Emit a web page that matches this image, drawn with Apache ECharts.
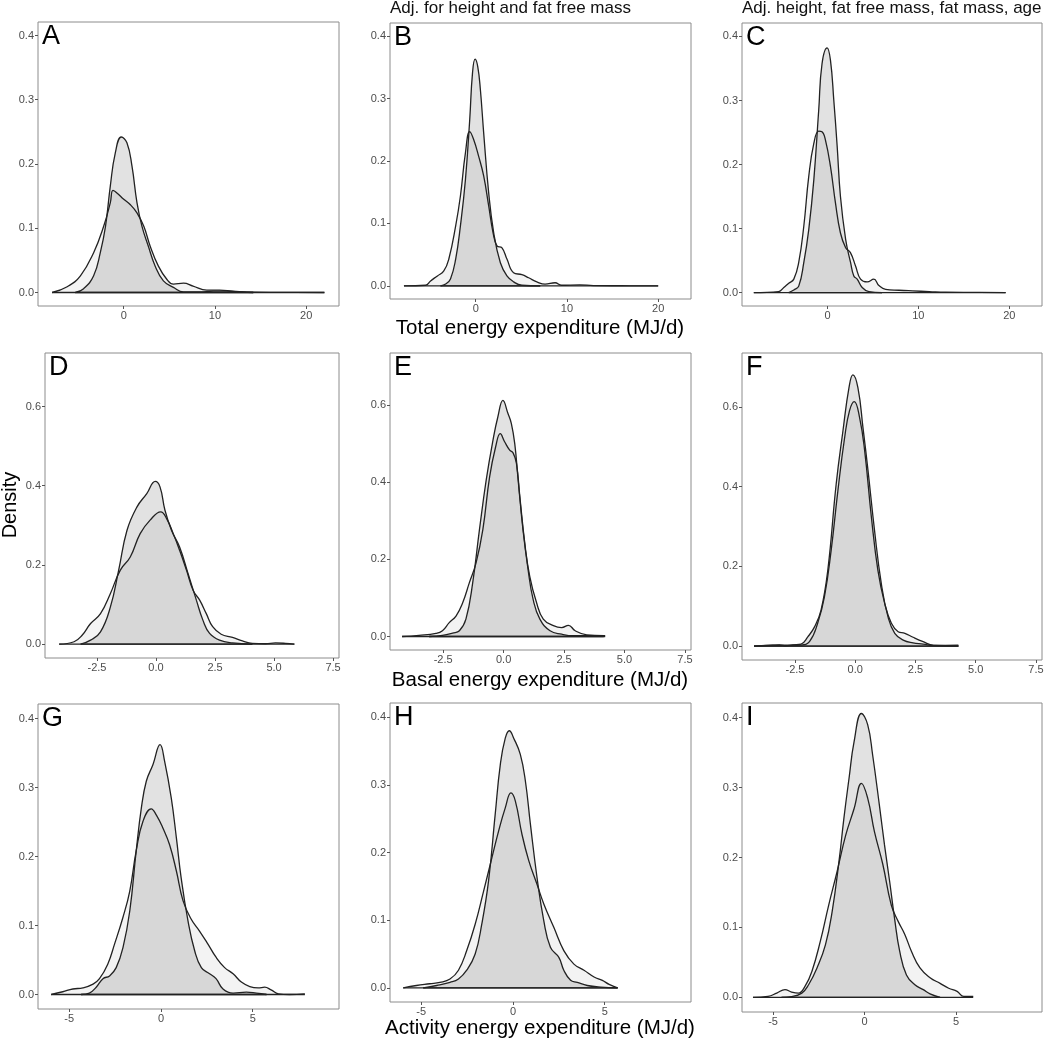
<!DOCTYPE html>
<html>
<head>
<meta charset="utf-8">
<script src="https://cdn.jsdelivr.net/npm/echarts@6/dist/echarts.min.js"></script>
<style>
html,body{margin:0;padding:0;background:#fff;}
#chart{width:1050px;height:1042px;}
</style>
</head>
<body>
<div id="chart"></div>
<script>
// ---------- Data (density curves) ----------
const panelLetters = ['A','B','C','D','E','F','G','H','I'];
const columnTitles = ['', 'Adj. for height and fat free mass', 'Adj. height, fat free mass, fat mass, age'];
const rowTitles = ['Total energy expenditure (MJ/d)', 'Basal energy expenditure (MJ/d)', 'Activity energy expenditure (MJ/d)'];
const yTitle = 'Density';

const xTicksTEE = [0, 10, 20];
const xTicksBEE = [-2.5, 0, 2.5, 5, 7.5];
const xTicksAEE = [-5, 0, 5];
const yTicksTEE = [0, 0.1, 0.2, 0.3, 0.4];
const yTicksBEE = [0, 0.2, 0.4, 0.6];
const yTicksAEE = [0, 0.1, 0.2, 0.3, 0.4];

// Panel A
const A_wide = [[-7.85,0],[-6.2,0.009],[-4.75,0.026],[-3.3,0.062],[-2.2,0.103],[-1.47,0.14],[-1.18,0.159],[-0.75,0.155],[0,0.145],[0.7,0.137],[1.45,0.124],[2.2,0.103],[2.9,0.072],[3.8,0.041],[4.7,0.021],[5.45,0.013],[6.55,0.0145],[7.6,0.010],[9.1,0.0036],[10.5,0.0036],[12,0.002],[14.2,0.0005],[18,0.0002],[22,0]];
const A_tall = [[-5.3,0],[-4.4,0.006],[-3.3,0.026],[-2.57,0.062],[-2.0,0.103],[-1.47,0.166],[-0.93,0.217],[-0.27,0.242],[0.35,0.233],[0.9,0.197],[1.45,0.14],[2.0,0.103],[2.7,0.072],[3.45,0.041],[4.35,0.018],[5.45,0.008],[6.55,0.001],[8.35,0.001],[9.8,0.002],[11.3,0.002],[12.7,0.001],[14.2,0]];
// Panel B
const B_wide = [[-7.87,0],[-5.5,0.001],[-4.95,0.008],[-4.2,0.016],[-3.5,0.024],[-2.95,0.043],[-2.2,0.096],[-1.68,0.144],[-1.13,0.213],[-0.66,0.247],[-0.22,0.234],[0.33,0.207],[0.87,0.176],[1.42,0.128],[1.9,0.085],[2.33,0.064],[2.88,0.061],[3.42,0.043],[4.15,0.021],[5.06,0.018],[5.8,0.013],[6.7,0.0064],[7.6,0.0027],[8.7,0.005],[9.4,0.001],[11.4,0.0016],[12.9,0.0005],[16,0.0002],[20,0]];
const B_tall = [[-3.86,0],[-3.3,0.003],[-2.77,0.011],[-2.2,0.043],[-1.68,0.096],[-1.13,0.17],[-0.66,0.266],[-0.36,0.34],[-0.07,0.363],[0.22,0.351],[0.51,0.314],[0.87,0.245],[1.42,0.149],[1.97,0.085],[2.7,0.037],[3.42,0.016],[4.15,0.0064],[5.06,0.001],[7.07,0]];
// Panel C
const C_wide = [[-8.1,0],[-5.37,0.0015],[-4.8,0.008],[-4.26,0.0145],[-3.7,0.021],[-3.16,0.047],[-2.6,0.104],[-2.06,0.181],[-1.5,0.233],[-0.96,0.252],[-0.6,0.251],[-0.22,0.238],[0.33,0.197],[0.88,0.14],[1.43,0.093],[2.0,0.07],[2.54,0.062],[3.1,0.041],[3.64,0.021],[4.37,0.0166],[5.1,0.021],[5.66,0.011],[6.4,0.005],[7.87,0.0036],[9.34,0.0026],[11.2,0.0015],[13,0.0005],[16,0.0002],[19.6,0]];
const C_tall = [[-4.26,0],[-3.7,0.004],[-3.16,0.01],[-2.6,0.047],[-2.06,0.098],[-1.5,0.176],[-0.96,0.285],[-0.6,0.357],[-0.04,0.382],[0.33,0.363],[0.7,0.3],[1.07,0.228],[1.43,0.15],[2.0,0.083],[2.54,0.047],[2.9,0.026],[3.27,0.021],[3.82,0.008],[4.56,0.0015],[6,0]];
// Panel D
const D_wide = [[-4.1,0],[-3.47,0.006],[-3.12,0.023],[-2.77,0.052],[-2.35,0.077],[-1.93,0.128],[-1.51,0.187],[-1.09,0.22],[-0.67,0.279],[-0.25,0.313],[0.2,0.334],[0.45,0.317],[0.73,0.279],[1.0,0.237],[1.29,0.187],[1.57,0.136],[1.85,0.111],[2.13,0.077],[2.4,0.044],[2.76,0.025],[3.24,0.017],[3.66,0.008],[4.08,0.002],[4.64,0.001],[5.06,0.003],[5.48,0.002],[5.86,0]];
const D_tall = [[-3.19,0],[-2.77,0.01],[-2.35,0.031],[-1.93,0.094],[-1.58,0.187],[-1.23,0.287],[-0.81,0.346],[-0.39,0.38],[-0.03,0.411],[0.17,0.397],[0.38,0.338],[0.66,0.287],[1.0,0.245],[1.36,0.178],[1.71,0.111],[1.99,0.06],[2.27,0.027],[2.69,0.01],[3.24,0.003],[4.08,0]];
// Panel E
const E_wide = [[-4.2,0],[-3.5,0.003],[-2.8,0.008],[-2.53,0.015],[-2.25,0.036],[-1.97,0.053],[-1.69,0.088],[-1.42,0.139],[-1.14,0.191],[-0.86,0.277],[-0.58,0.414],[-0.33,0.492],[-0.14,0.526],[0.04,0.505],[0.25,0.483],[0.39,0.476],[0.53,0.449],[0.67,0.363],[0.875,0.242],[1.08,0.156],[1.36,0.088],[1.64,0.045],[2.06,0.028],[2.4,0.023],[2.68,0.029],[2.96,0.015],[3.44,0.004],[4.14,0.002]];
const E_tall = [[-3.08,0],[-2.53,0.003],[-2.11,0.009],[-1.83,0.015],[-1.56,0.045],[-1.28,0.139],[-1.0,0.277],[-0.72,0.406],[-0.44,0.509],[-0.24,0.569],[-0.03,0.612],[0.18,0.578],[0.32,0.552],[0.46,0.5],[0.6,0.406],[0.8,0.277],[1.01,0.174],[1.22,0.096],[1.5,0.045],[1.92,0.015],[2.4,0.006],[2.89,0.002],[3.72,0.002],[4.2,0.002]];
// Panel F
const F_wide = [[-4.2,0],[-3.3,0.002],[-2.6,0.002],[-2.25,0.0025],[-1.9,0.011],[-1.56,0.057],[-1.28,0.123],[-1.0,0.24],[-0.72,0.39],[-0.44,0.523],[-0.24,0.59],[-0.04,0.613],[0.18,0.573],[0.39,0.49],[0.67,0.323],[0.94,0.19],[1.22,0.107],[1.5,0.057],[1.78,0.036],[2.06,0.032],[2.4,0.022],[2.82,0.011],[3.24,0.002],[4.28,0]];
const F_tall = [[-4.2,0],[-3.43,0.002],[-3.15,0.003],[-2.88,0.0005],[-2.6,0.003],[-2.25,0.005],[-1.97,0.023],[-1.69,0.048],[-1.42,0.09],[-1.14,0.19],[-0.79,0.407],[-0.51,0.54],[-0.26,0.648],[-0.1,0.68],[0.11,0.648],[0.32,0.548],[0.53,0.44],[0.8,0.29],[1.08,0.157],[1.36,0.073],[1.64,0.032],[1.99,0.015],[2.4,0.008],[2.82,0.005],[3.24,0.001],[4.28,0.002]];
// Panel G
const G_wide = [[-5.98,0],[-5.35,0.004],[-4.8,0.008],[-4.25,0.0096],[-3.7,0.015],[-3.35,0.023],[-2.9,0.044],[-2.53,0.073],[-2.07,0.112],[-1.7,0.15],[-1.35,0.208],[-0.98,0.251],[-0.53,0.269],[-0.25,0.26],[0.11,0.241],[0.47,0.217],[0.84,0.179],[1.2,0.136],[1.65,0.109],[2.1,0.092],[2.56,0.073],[3.0,0.054],[3.47,0.039],[3.93,0.03],[4.38,0.018],[4.84,0.0115],[5.3,0.0096],[5.65,0.0106],[6.0,0.0067],[6.4,0.001],[7.0,0],[7.84,0.001]];
const G_tall = [[-4.35,0],[-3.9,0.002],[-3.53,0.0106],[-3.16,0.023],[-2.8,0.027],[-2.44,0.039],[-2.07,0.068],[-1.7,0.121],[-1.35,0.208],[-1.07,0.27],[-0.8,0.309],[-0.44,0.333],[-0.05,0.362],[0.2,0.338],[0.56,0.285],[0.84,0.227],[1.1,0.169],[1.47,0.107],[1.84,0.063],[2.2,0.039],[2.65,0.03],[3.0,0.023],[3.38,0.008],[3.93,0.002],[4.65,0.0034],[5.2,0.002],[5.75,0]];
// Panel H
const H_wide = [[-5.98,0],[-5.26,0.0034],[-4.53,0.006],[-3.98,0.008],[-3.43,0.013],[-2.97,0.026],[-2.52,0.055],[-2.06,0.094],[-1.6,0.143],[-1.15,0.192],[-0.78,0.232],[-0.42,0.266],[-0.11,0.288],[0.13,0.276],[0.49,0.227],[0.86,0.188],[1.31,0.153],[1.68,0.124],[2.23,0.089],[2.77,0.055],[3.32,0.035],[3.87,0.026],[4.42,0.016],[4.87,0.011],[5.24,0.005],[5.7,0]];
const H_tall = [[-4.89,0],[-4.16,0.0034],[-3.43,0.008],[-2.97,0.013],[-2.52,0.026],[-2.06,0.05],[-1.7,0.094],[-1.33,0.158],[-0.97,0.256],[-0.69,0.33],[-0.42,0.369],[-0.2,0.38],[0.04,0.369],[0.4,0.345],[0.68,0.305],[0.95,0.242],[1.31,0.163],[1.68,0.099],[2.04,0.06],[2.5,0.045],[2.77,0.026],[3.14,0.011],[3.5,0.008],[4.05,0.0034],[4.78,0.001],[5.7,0]];
// Panel I
const I_wide = [[-6.1,0],[-5.28,0.0014],[-4.8,0.006],[-4.35,0.011],[-3.99,0.0076],[-3.62,0.006],[-3.25,0.016],[-2.88,0.037],[-2.42,0.08],[-1.96,0.132],[-1.5,0.18],[-1.03,0.232],[-0.57,0.27],[-0.17,0.306],[0.17,0.285],[0.54,0.237],[1.0,0.19],[1.46,0.132],[1.83,0.109],[2.2,0.09],[2.56,0.066],[3.03,0.042],[3.58,0.028],[4.13,0.02],[4.6,0.013],[5.06,0.0086],[5.42,0.0014],[5.94,0.0014]];
const I_tall = [[-4.54,0],[-3.99,0.001],[-3.43,0.006],[-3.06,0.018],[-2.6,0.042],[-2.14,0.075],[-1.77,0.123],[-1.4,0.194],[-1.13,0.256],[-0.85,0.313],[-0.57,0.366],[-0.17,0.406],[0.17,0.39],[0.44,0.347],[0.81,0.275],[1.09,0.218],[1.37,0.166],[1.64,0.113],[1.92,0.066],[2.29,0.032],[2.75,0.018],[3.21,0.011],[3.58,0.005],[4.13,0]];

// ---------- Layout ----------
const FONT = '"Liberation Sans", Arial, Helvetica, sans-serif';
const panels = [
  {wide: A_wide, tall: A_tall, row: 0, box: [38, 22, 339, 306]},
  {wide: B_wide, tall: B_tall, row: 0, box: [390, 23, 691, 299]},
  {wide: C_wide, tall: C_tall, row: 0, box: [742, 23, 1042, 306]},
  {wide: D_wide, tall: D_tall, row: 1, box: [45, 353, 339, 658]},
  {wide: E_wide, tall: E_tall, row: 1, box: [390, 353, 691, 650]},
  {wide: F_wide, tall: F_tall, row: 1, box: [742, 353, 1042, 660]},
  {wide: G_wide, tall: G_tall, row: 2, box: [38, 704, 339, 1009]},
  {wide: H_wide, tall: H_tall, row: 2, box: [390, 703, 691, 1002]},
  {wide: I_wide, tall: I_tall, row: 2, box: [742, 703, 1042, 1012]}
];
const rowAxes = [
  {xmin: -9.4, xmax: 23.6, xt: xTicksTEE, xfmt: v => String(v), ymin: -0.021, ymax: 0.421, yt: yTicksTEE},
  {xmin: -4.7, xmax: 7.75, xt: xTicksBEE, xfmt: v => v.toFixed(1), ymin: -0.035, ymax: 0.735, yt: yTicksBEE},
  {xmin: -6.7, xmax: 9.7, xt: xTicksAEE, xfmt: v => String(v), ymin: -0.021, ymax: 0.421, yt: yTicksAEE}
];

const grids = [], xAxes = [], yAxes = [], series = [], graphics = [];
panels.forEach((p, i) => {
  const [l, t, r, b] = p.box;
  const ax = rowAxes[p.row];
  grids.push({left: l, top: t, width: r - l, height: b - t, show: true, borderColor: '#8c8c8c', borderWidth: 1, backgroundColor: '#fff', outerBoundsMode: 'none'});
  xAxes.push({
    type: 'value', gridIndex: i, min: ax.xmin, max: ax.xmax, position: 'bottom',
    axisLine: {show: false, onZero: false}, splitLine: {show: false},
    axisTick: {show: true, length: 3, lineStyle: {color: '#555'}, customValues: ax.xt},
    axisLabel: {show: true, margin: 4, color: '#4d4d4d', fontSize: 11, fontFamily: FONT, customValues: ax.xt, formatter: ax.xfmt}
  });
  yAxes.push({
    type: 'value', gridIndex: i, min: ax.ymin, max: ax.ymax, position: 'left',
    axisLine: {show: false, onZero: false}, splitLine: {show: false},
    axisTick: {show: true, length: 3, lineStyle: {color: '#555'}, customValues: ax.yt},
    axisLabel: {show: true, margin: 4, color: '#4d4d4d', fontSize: 11, fontFamily: FONT, customValues: ax.yt, formatter: v => v.toFixed(1)}
  });
  const curves = [{d: p.wide, fill: 'rgba(0,0,0,0.065)'}, {d: p.tall, fill: 'rgba(0,0,0,0.16)'}];
  curves.forEach(c => {
    series.push({
      type: 'line', xAxisIndex: i, yAxisIndex: i, data: c.d,
      smooth: 0.45, showSymbol: false, silent: true, clip: true,
      lineStyle: {color: '#222', width: 1.3},
      areaStyle: {color: c.fill, origin: 0}
    });
  });
  curves.forEach(c => {
    series.push({
      type: 'line', xAxisIndex: i, yAxisIndex: i,
      data: [[c.d[0][0], 0], [c.d[c.d.length - 1][0], 0]],
      showSymbol: false, silent: true,
      lineStyle: {color: '#222', width: 1.3}
    });
  });
  graphics.push({type: 'text', left: l + 4, top: t + 1, style: {text: panelLetters[i], font: '400 27px ' + FONT, fill: '#000'}});
});

// column titles (top of panels B and C)
graphics.push({type: 'text', left: 390, top: 0, style: {text: columnTitles[1], font: '400 17px ' + FONT, fill: '#111'}});
graphics.push({type: 'text', left: 742, top: 0, style: {text: columnTitles[2], font: '400 17px ' + FONT, fill: '#111'}});
// row x-axis titles under middle column
const rowTitleY = [328, 680, 1028];
rowTitles.forEach((s, k) => {
  graphics.push({type: 'text', x: 540, y: rowTitleY[k], style: {text: s, font: '400 20.5px ' + FONT, fill: '#000', align: 'center', verticalAlign: 'middle'}});
});
// y title
graphics.push({type: 'text', x: 10, y: 505, rotation: Math.PI / 2, style: {text: yTitle, font: '400 20px ' + FONT, fill: '#000', align: 'center', verticalAlign: 'middle'}});

const chart = echarts.init(document.getElementById('chart'), null, {renderer: 'canvas'});
chart.setOption({
  animation: false,
  backgroundColor: '#fff',
  grid: grids, xAxis: xAxes, yAxis: yAxes, series: series, graphic: graphics
});
</script>
</body>
</html>
